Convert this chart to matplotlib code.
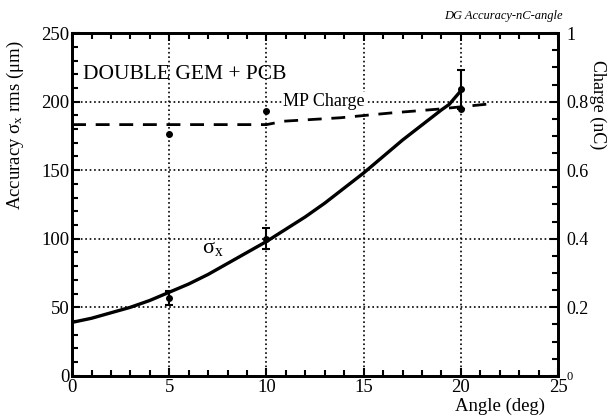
import numpy as np
import matplotlib
matplotlib.use("Agg")
import matplotlib.pyplot as plt
from matplotlib.ticker import MultipleLocator

plt.rcParams['font.family'] = ['Liberation Serif', 'DejaVu Serif']
plt.rcParams['mathtext.fontset'] = 'stix'

# measured points (angle in deg)
angle_pts = [5, 10, 20]
sigma_pts = [57, 100, 209]
sigma_err = [5, 7.5, 14]
charge_pts = [0.706, 0.773, 0.78]

# smooth curve through sigma_x
fit_angle = [0, 1, 2, 3, 4, 5, 6, 7, 8, 9, 10, 11, 12, 13, 14, 15, 16, 17, 18, 19, 19.4, 20]
fit_sigma = [39, 42, 46, 50, 55, 61, 67, 74, 82, 90, 98, 107, 116, 126, 137, 148, 160, 172, 183, 194, 198, 208]

# dashed MP charge curve (nC)
charge_angle = [0, 10, 10.9, 13.8, 16.4, 18.8, 21.4]
charge_fit = [0.733, 0.733, 0.743, 0.753, 0.767, 0.778, 0.793]

fig = plt.figure(figsize=(6.16, 4.19), dpi=100)
ax = fig.add_axes([0.117, 0.103, 0.789, 0.818])

# grid
for gx in [5, 10, 15, 20]:
    ax.axvline(gx, color="black", linestyle=":", linewidth=1.2, zorder=1)
for gy in [50, 100, 150, 200]:
    ax.axhline(gy, color="black", linestyle=":", linewidth=1.2, zorder=1)

ax.plot(fit_angle, fit_sigma, color="black", linewidth=2.4, zorder=3)
ax.errorbar(angle_pts, sigma_pts, yerr=sigma_err, fmt="o", color="black",
            markersize=4, capsize=3, elinewidth=1.5, capthick=1.5, zorder=4)

ax.set_xlim(0, 25)
ax.set_ylim(0, 250)
ax.xaxis.set_major_locator(MultipleLocator(5))
ax.xaxis.set_minor_locator(MultipleLocator(1))
ax.yaxis.set_major_locator(MultipleLocator(50))
ax.yaxis.set_minor_locator(MultipleLocator(10))
ax.tick_params(which="both", direction="in", top=True, right=False, width=1.5,
               labelsize=13.5, pad=2)
ax.tick_params(which="major", length=6)
ax.tick_params(which="minor", length=4)
for sp in ax.spines.values():
    sp.set_linewidth(2)

ax.set_xlabel("Angle (deg)", fontsize=13.5, labelpad=0)
ax.xaxis.set_label_coords(0.88, -0.065)
ax.set_ylabel(r"Accuracy $\mathregular{\sigma_x}$ rms (μm)", fontsize=13.5, labelpad=4)
ax.yaxis.set_label_coords(-0.095, 0.73)

# right axis: charge
ax2 = ax.twinx()
ax2.plot(charge_angle, charge_fit, color="black", linewidth=2,
         dashes=(5, 3.5), zorder=3)
ax2.plot(angle_pts, charge_pts, "o", color="black", markersize=4, zorder=4)
ax2.set_ylim(0, 1)
ax2.yaxis.set_minor_locator(MultipleLocator(0.05))
ax2.set_yticks([0, 0.2, 0.4, 0.6, 0.8, 1])
ax2.set_yticklabels(["0", "0.2", "0.4", "0.6", "0.8", "1"])
ax2.tick_params(which="both", direction="in", width=1.5, labelsize=13, pad=6)
ax2.tick_params(which="major", length=6)
ax2.tick_params(which="minor", length=4)
ax2.get_yticklabels()[0].set_fontsize(9)
ax2.set_ylabel("Charge (nC)", fontsize=13, rotation=270, labelpad=12)
ax2.yaxis.set_label_coords(1.1, 0.79)
for sp in ax2.spines.values():
    sp.set_linewidth(2)

ax.text(0.55, 220, "DOUBLE GEM + PCB", fontsize=15.5, va="center", ha="left", zorder=5)
ax.text(10.85, 200, "MP Charge", fontsize=13, va="center", ha="left",
        bbox=dict(facecolor="white", edgecolor="none", pad=1), zorder=5)
ax.text(6.7, 93, r"$\mathregular{\sigma_x}$", fontsize=16, va="center", ha="left", zorder=5)
fig.text(0.817, 0.962, "DG Accuracy-nC-angle", fontsize=9, style="italic",
         ha="center", va="center")

fig.savefig("out.png", dpi=100)
